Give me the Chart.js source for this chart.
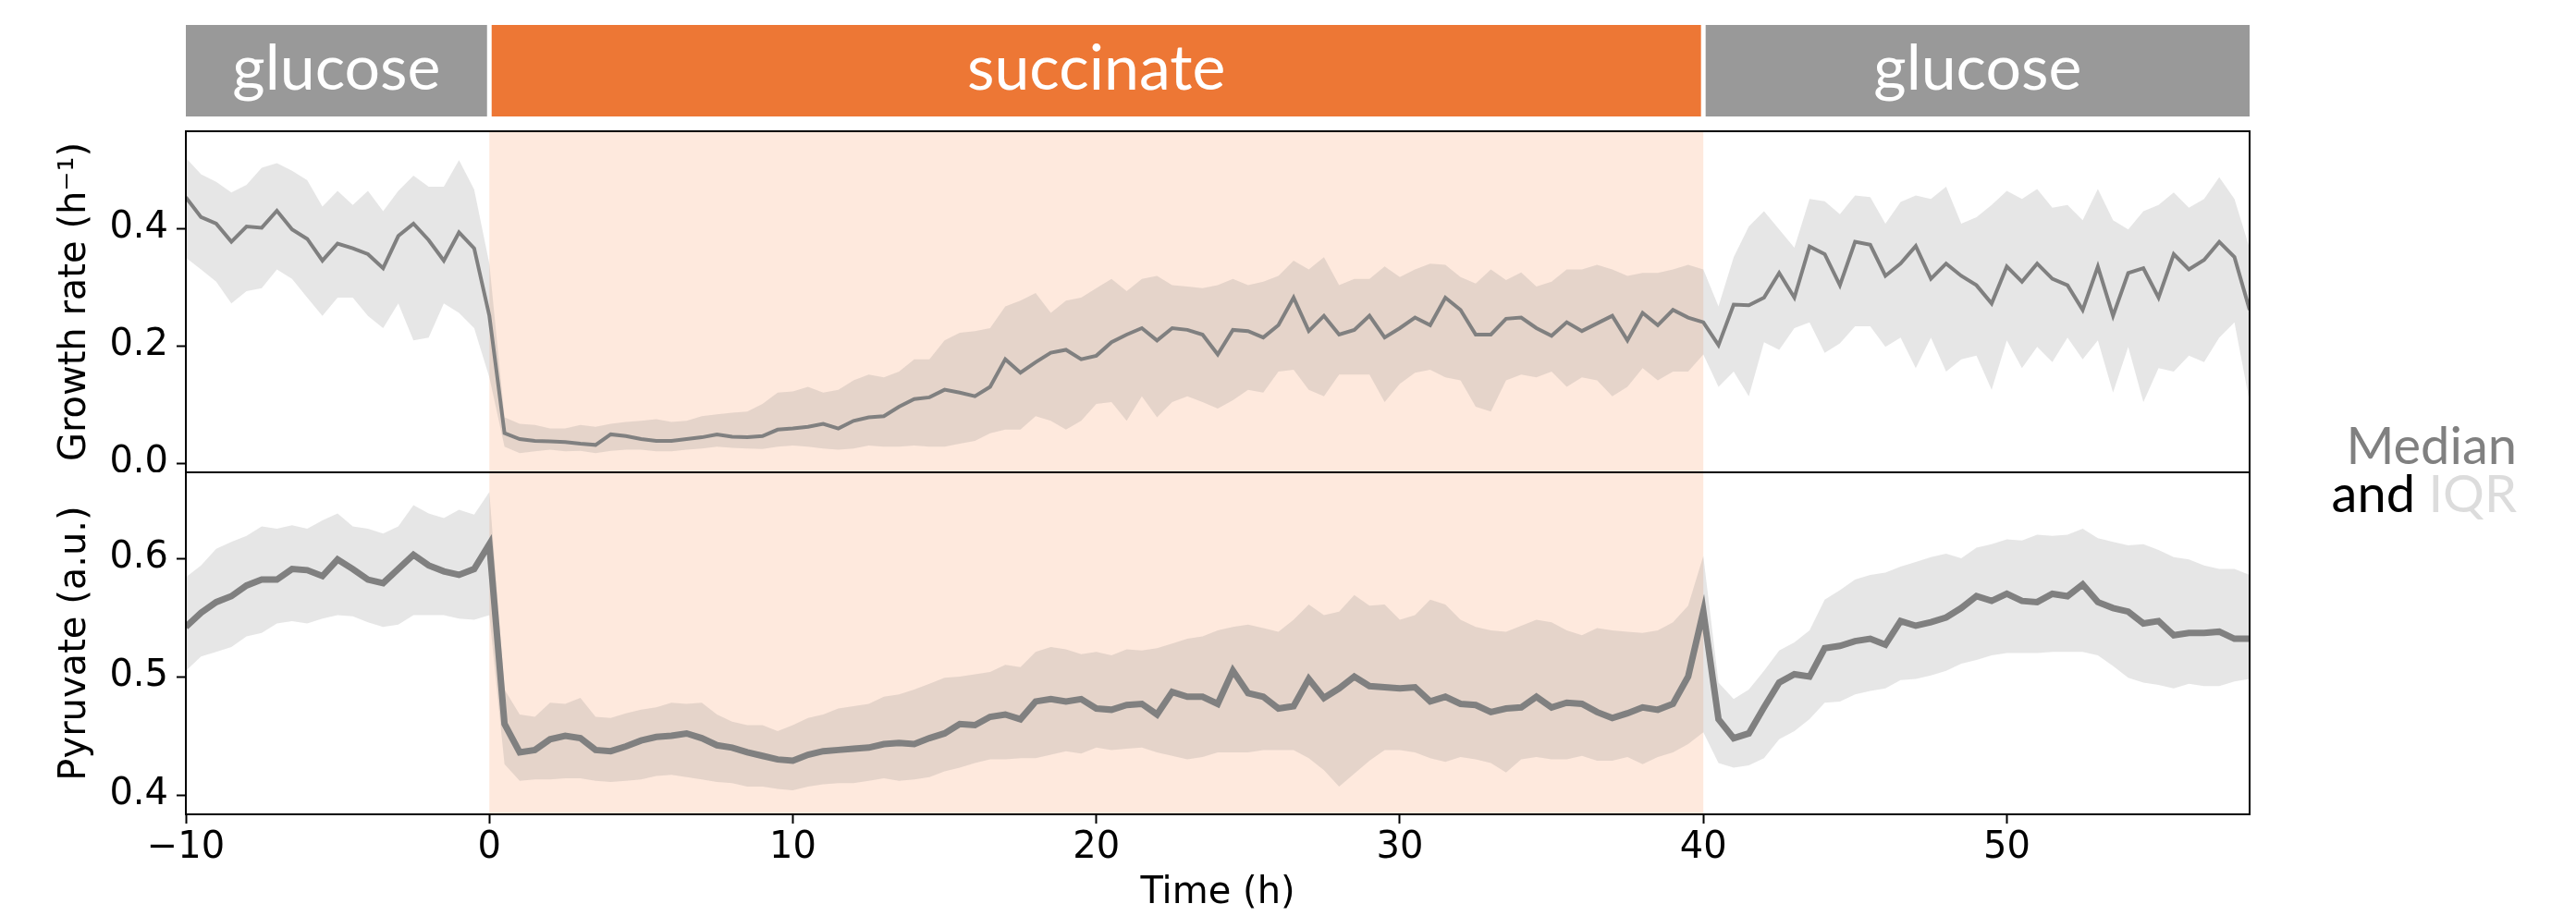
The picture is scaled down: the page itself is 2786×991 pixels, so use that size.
<!DOCTYPE html>
<html>
<head>
<meta charset="utf-8">
<title>Growth rate and pyruvate</title>
<script src="https://cdn.jsdelivr.net/npm/chart.js@4.4.0/dist/chart.umd.min.js"></script>
<style>
  html, body { margin: 0; padding: 0; background: #fff; }
  body { width: 2786px; height: 991px; position: relative; overflow: hidden; }
  canvas { position: absolute; left: 0; }
  #growthChart { top: 0; }
  #pyruvateChart { top: 511px; }
  .legend {
    position: absolute; left: 2472px; width: 250px; text-align: right;
    font-family: Lato, sans-serif; font-size: 56px; line-height: 52px; white-space: nowrap;
  }
</style>
</head>
<body>
<canvas id="growthChart" width="2786" height="511"></canvas>
<canvas id="pyruvateChart" width="2786" height="480"></canvas>
<div class="legend" style="top:455px; color:#808080;">Median</div>
<div class="legend" style="top:507px;"><span style="color:#000">and</span> <span style="color:#dcdcdc">IQR</span></div>
<script>
// time points (h), media switches at 0 h and 40 h
const timeH = [
  -10, -9.5, -9, -8.5, -8, -7.5, -7, -6.5, -6, -5.5,
  -5, -4.5, -4, -3.5, -3, -2.5, -2, -1.5, -1, -0.5,
  0, 0.5, 1, 1.5, 2, 2.5, 3, 3.5, 4, 4.5,
  5, 5.5, 6, 6.5, 7, 7.5, 8, 8.5, 9, 9.5,
  10, 10.5, 11, 11.5, 12, 12.5, 13, 13.5, 14, 14.5,
  15, 15.5, 16, 16.5, 17, 17.5, 18, 18.5, 19, 19.5,
  20, 20.5, 21, 21.5, 22, 22.5, 23, 23.5, 24, 24.5,
  25, 25.5, 26, 26.5, 27, 27.5, 28, 28.5, 29, 29.5,
  30, 30.5, 31, 31.5, 32, 32.5, 33, 33.5, 34, 34.5,
  35, 35.5, 36, 36.5, 37, 37.5, 38, 38.5, 39, 39.5,
  40, 40.5, 41, 41.5, 42, 42.5, 43, 43.5, 44, 44.5,
  45, 45.5, 46, 46.5, 47, 47.5, 48, 48.5, 49, 49.5,
  50, 50.5, 51, 51.5, 52, 52.5, 53, 53.5, 54, 54.5,
  55, 55.5, 56, 56.5, 57, 57.5, 58
];

const growthMedian = [
  0.453, 0.419, 0.408, 0.377, 0.403, 0.401, 0.430, 0.398, 0.382, 0.345,
  0.374, 0.366, 0.356, 0.332, 0.387, 0.408, 0.380, 0.345, 0.393, 0.366,
  0.251, 0.051, 0.041, 0.038, 0.037, 0.036, 0.033, 0.031, 0.049, 0.046,
  0.041, 0.038, 0.038, 0.041, 0.044, 0.049, 0.045, 0.044, 0.046, 0.057,
  0.059, 0.062, 0.067, 0.059, 0.072, 0.078, 0.080, 0.096, 0.109, 0.112,
  0.125, 0.120, 0.114, 0.130, 0.177, 0.154, 0.172, 0.188, 0.193, 0.177,
  0.183, 0.206, 0.219, 0.230, 0.209, 0.230, 0.227, 0.219, 0.185, 0.227,
  0.225, 0.214, 0.235, 0.282, 0.225, 0.251, 0.219, 0.227, 0.251, 0.214,
  0.230, 0.248, 0.235, 0.282, 0.261, 0.219, 0.219, 0.246, 0.248, 0.230,
  0.217, 0.240, 0.225, 0.238, 0.251, 0.209, 0.256, 0.235, 0.261, 0.248,
  0.240, 0.201, 0.270, 0.269, 0.282, 0.324, 0.282, 0.369, 0.356, 0.303,
  0.377, 0.372, 0.319, 0.340, 0.370, 0.314, 0.340, 0.319, 0.303, 0.272,
  0.335, 0.309, 0.340, 0.314, 0.303, 0.261, 0.335, 0.251, 0.324, 0.332,
  0.282, 0.356, 0.330, 0.346, 0.377, 0.351, 0.261
];
const growthQ3 = [
  0.520, 0.492, 0.479, 0.461, 0.474, 0.503, 0.511, 0.498, 0.482, 0.437,
  0.464, 0.440, 0.464, 0.429, 0.464, 0.490, 0.471, 0.471, 0.516, 0.466,
  0.340, 0.078, 0.067, 0.065, 0.059, 0.059, 0.065, 0.062, 0.067, 0.070,
  0.072, 0.075, 0.070, 0.072, 0.080, 0.083, 0.086, 0.088, 0.101, 0.120,
  0.122, 0.130, 0.120, 0.125, 0.141, 0.151, 0.146, 0.156, 0.177, 0.177,
  0.209, 0.222, 0.225, 0.230, 0.267, 0.277, 0.290, 0.256, 0.277, 0.282,
  0.298, 0.314, 0.293, 0.314, 0.319, 0.303, 0.301, 0.298, 0.303, 0.314,
  0.303, 0.309, 0.319, 0.345, 0.330, 0.351, 0.303, 0.314, 0.314, 0.335,
  0.317, 0.330, 0.340, 0.338, 0.317, 0.306, 0.330, 0.312, 0.325, 0.301,
  0.309, 0.330, 0.330, 0.338, 0.330, 0.319, 0.324, 0.324, 0.330, 0.338,
  0.330, 0.267, 0.351, 0.403, 0.429, 0.398, 0.367, 0.450, 0.446, 0.424,
  0.456, 0.453, 0.408, 0.445, 0.456, 0.450, 0.471, 0.408, 0.419, 0.440,
  0.464, 0.450, 0.467, 0.435, 0.440, 0.414, 0.467, 0.414, 0.398, 0.429,
  0.440, 0.461, 0.435, 0.450, 0.487, 0.450, 0.366
];
const growthQ1 = [
  0.350, 0.330, 0.309, 0.272, 0.293, 0.298, 0.330, 0.314, 0.282, 0.251,
  0.282, 0.282, 0.251, 0.230, 0.272, 0.209, 0.214, 0.272, 0.256, 0.230,
  0.146, 0.028, 0.017, 0.020, 0.023, 0.020, 0.021, 0.017, 0.021, 0.023,
  0.023, 0.020, 0.020, 0.023, 0.025, 0.028, 0.026, 0.025, 0.024, 0.028,
  0.030, 0.028, 0.025, 0.023, 0.025, 0.030, 0.028, 0.028, 0.030, 0.028,
  0.028, 0.033, 0.038, 0.051, 0.057, 0.057, 0.080, 0.072, 0.057, 0.072,
  0.101, 0.104, 0.072, 0.114, 0.078, 0.104, 0.114, 0.104, 0.093, 0.107,
  0.125, 0.120, 0.156, 0.159, 0.125, 0.114, 0.151, 0.151, 0.151, 0.104,
  0.135, 0.154, 0.159, 0.146, 0.141, 0.096, 0.088, 0.141, 0.151, 0.146,
  0.156, 0.130, 0.146, 0.141, 0.114, 0.130, 0.162, 0.141, 0.156, 0.156,
  0.185, 0.130, 0.156, 0.114, 0.206, 0.193, 0.230, 0.240, 0.188, 0.204,
  0.233, 0.233, 0.198, 0.214, 0.162, 0.214, 0.156, 0.177, 0.183, 0.125,
  0.209, 0.162, 0.198, 0.172, 0.214, 0.177, 0.209, 0.120, 0.198, 0.104,
  0.162, 0.156, 0.183, 0.172, 0.214, 0.240, 0.104
];

const pyruvateMedian = [
  0.542, 0.554, 0.563, 0.568, 0.577, 0.582, 0.582, 0.591, 0.590, 0.585,
  0.599, 0.591, 0.582, 0.579, 0.591, 0.603, 0.594, 0.589, 0.586, 0.591,
  0.612, 0.460, 0.436, 0.438, 0.447, 0.450, 0.448, 0.438, 0.437, 0.441,
  0.446, 0.449, 0.450, 0.452, 0.448, 0.442, 0.440, 0.436, 0.433, 0.430,
  0.429, 0.434, 0.437, 0.438, 0.439, 0.440, 0.443, 0.444, 0.443, 0.448,
  0.452, 0.460, 0.459, 0.466, 0.468, 0.464, 0.479, 0.481, 0.479, 0.481,
  0.473, 0.472, 0.476, 0.477, 0.468, 0.487, 0.483, 0.483, 0.477, 0.505,
  0.486, 0.483, 0.473, 0.475, 0.498, 0.482, 0.490, 0.500, 0.492, 0.491,
  0.490, 0.491, 0.479, 0.483, 0.477, 0.476, 0.470, 0.473, 0.474, 0.483,
  0.474, 0.478, 0.477, 0.470, 0.465, 0.469, 0.474, 0.472, 0.477, 0.500,
  0.555, 0.464, 0.448, 0.452, 0.474, 0.495, 0.502, 0.500, 0.524, 0.526,
  0.530, 0.532, 0.527, 0.547, 0.543, 0.546, 0.550, 0.558, 0.568, 0.564,
  0.570, 0.564, 0.563, 0.570, 0.568, 0.578, 0.563, 0.558, 0.555, 0.545,
  0.547, 0.535, 0.537, 0.537, 0.538, 0.532, 0.532
];
const pyruvateQ3 = [
  0.584, 0.594, 0.608, 0.614, 0.619, 0.627, 0.625, 0.628, 0.625, 0.632,
  0.638, 0.627, 0.625, 0.621, 0.627, 0.645, 0.638, 0.634, 0.641, 0.637,
  0.656, 0.489, 0.468, 0.466, 0.478, 0.477, 0.482, 0.466, 0.465, 0.469,
  0.472, 0.474, 0.478, 0.477, 0.478, 0.468, 0.462, 0.459, 0.459, 0.454,
  0.459, 0.465, 0.468, 0.473, 0.475, 0.477, 0.483, 0.485, 0.489, 0.494,
  0.499, 0.500, 0.502, 0.504, 0.510, 0.508, 0.521, 0.525, 0.523, 0.519,
  0.521, 0.518, 0.523, 0.522, 0.524, 0.528, 0.532, 0.534, 0.539, 0.542,
  0.544, 0.541, 0.538, 0.548, 0.561, 0.552, 0.555, 0.569, 0.560, 0.561,
  0.548, 0.552, 0.565, 0.561, 0.548, 0.542, 0.539, 0.538, 0.543, 0.548,
  0.546, 0.539, 0.535, 0.541, 0.539, 0.538, 0.537, 0.539, 0.546, 0.560,
  0.602, 0.495, 0.481, 0.489, 0.505, 0.522, 0.529, 0.539, 0.565, 0.573,
  0.582, 0.586, 0.588, 0.593, 0.597, 0.601, 0.604, 0.600, 0.609, 0.612,
  0.616, 0.615, 0.620, 0.619, 0.620, 0.625, 0.617, 0.614, 0.611, 0.612,
  0.607, 0.601, 0.599, 0.594, 0.591, 0.591, 0.586
];
const pyruvateQ1 = [
  0.505, 0.517, 0.521, 0.525, 0.534, 0.537, 0.545, 0.547, 0.545, 0.549,
  0.552, 0.551, 0.546, 0.542, 0.544, 0.552, 0.552, 0.552, 0.549, 0.548,
  0.552, 0.426, 0.412, 0.413, 0.413, 0.414, 0.414, 0.412, 0.411, 0.412,
  0.413, 0.416, 0.417, 0.415, 0.413, 0.411, 0.410, 0.407, 0.407, 0.405,
  0.404, 0.407, 0.409, 0.410, 0.410, 0.412, 0.414, 0.412, 0.413, 0.415,
  0.420, 0.423, 0.427, 0.430, 0.430, 0.431, 0.431, 0.434, 0.437, 0.435,
  0.440, 0.438, 0.439, 0.440, 0.436, 0.433, 0.430, 0.432, 0.436, 0.436,
  0.436, 0.438, 0.438, 0.438, 0.431, 0.421, 0.407, 0.418, 0.429, 0.438,
  0.438, 0.436, 0.431, 0.428, 0.432, 0.430, 0.427, 0.419, 0.430, 0.432,
  0.430, 0.430, 0.433, 0.429, 0.429, 0.432, 0.426, 0.432, 0.436, 0.443,
  0.453, 0.427, 0.423, 0.425, 0.431, 0.447, 0.454, 0.464, 0.478, 0.479,
  0.485, 0.488, 0.490, 0.497, 0.498, 0.501, 0.505, 0.511, 0.514, 0.518,
  0.520, 0.520, 0.520, 0.521, 0.521, 0.521, 0.518, 0.509, 0.499, 0.495,
  0.493, 0.490, 0.494, 0.492, 0.492, 0.496, 0.498
];

// medium phases
const phaseNames = ['glucose', 'succinate', 'glucose'];
const phaseStarts = [-10, 0, 40];
const phaseEnds = [0, 40, 58];

const timeTicks = [-10, 0, 10, 20, 30, 40, 50];
const growthTicks = [0.0, 0.2, 0.4];
const pyruvateTicks = [0.4, 0.5, 0.6];

const bannerColors = { glucose: '#999999', succinate: '#ed7735' };
const shadeColors = { succinate: '#fee9dd' };
const tickFont = { family: 'DejaVu Sans', size: 40 };

function toPoints(values) {
    return timeH.map((t, i) => ({ x: t, y: values[i] }));
}

function bandDatasets(median, q3, q1, lineWidth) {
    return [{
        data: toPoints(median),
        borderColor: '#808080',
        borderWidth: lineWidth,
        pointRadius: 0,
        fill: false,
        clip: 0
    }, {
        data: toPoints(q3),
        borderColor: 'rgba(0,0,0,0)',
        borderWidth: 0,
        backgroundColor: 'rgba(128,128,128,0.2)',
        pointRadius: 0,
        fill: '+1',
        clip: 0
    }, {
        data: toPoints(q1),
        borderColor: 'rgba(0,0,0,0)',
        borderWidth: 0,
        pointRadius: 0,
        fill: false,
        clip: 0
    }];
}

// peach background behind the succinate phase
const phaseShading = {
    id: 'phaseShading',
    beforeDatasetsDraw(chart) {
        const { ctx, chartArea, scales } = chart;
        ctx.save();
        phaseNames.forEach((name, i) => {
            if (!shadeColors[name]) return;
            const x0 = scales.x.getPixelForValue(phaseStarts[i]);
            const x1 = scales.x.getPixelForValue(phaseEnds[i]);
            ctx.fillStyle = shadeColors[name];
            ctx.fillRect(x0, chartArea.top, x1 - x0, chartArea.bottom - chartArea.top);
        });
        ctx.restore();
    }
};

const axesFrame = {
    id: 'axesFrame',
    afterDraw(chart) {
        const { ctx, chartArea } = chart;
        ctx.save();
        ctx.strokeStyle = '#000';
        ctx.lineWidth = 2;
        ctx.strokeRect(chartArea.left, chartArea.top, chartArea.right - chartArea.left, chartArea.bottom - chartArea.top);
        ctx.restore();
    }
};

// coloured medium boxes above the top panel
const mediaBanner = {
    id: 'mediaBanner',
    afterDraw(chart) {
        const { ctx, scales } = chart;
        const top = 27, bottom = 126, gap = 2.5;
        ctx.save();
        ctx.font = '68px Lato';
        ctx.textAlign = 'center';
        ctx.textBaseline = 'alphabetic';
        phaseNames.forEach((name, i) => {
            let x0 = scales.x.getPixelForValue(phaseStarts[i]);
            let x1 = scales.x.getPixelForValue(phaseEnds[i]);
            if (i > 0) x0 += gap;
            if (i < phaseNames.length - 1) x1 -= gap;
            ctx.fillStyle = bannerColors[name];
            ctx.fillRect(x0, top, x1 - x0, bottom - top);
            ctx.fillStyle = '#fff';
            ctx.fillText(name, (x0 + x1) / 2, top + (bottom - top) * 0.71);
        });
        ctx.restore();
    }
};

function yAxis(min, max, tickValues, title) {
    return {
        min: min,
        max: max,
        afterBuildTicks: s => { s.ticks = tickValues.map(v => ({ value: v })); },
        afterFit: s => { s.width = 201; s.paddingTop = 0; s.paddingBottom = 0; },
        ticks: { font: tickFont, color: '#000', padding: 9, callback: v => v.toFixed(1) },
        grid: { drawOnChartArea: false, tickLength: 10, tickColor: '#000', tickWidth: 2 },
        border: { display: false },
        title: { display: true, text: title, font: tickFont, color: '#000', padding: { top: 58, bottom: 0 } }
    };
}

function baseOptions() {
    return {
        responsive: false,
        animation: false,
        devicePixelRatio: 1,
        events: [],
        plugins: { legend: { display: false }, tooltip: { enabled: false } }
    };
}

document.addEventListener('DOMContentLoaded', function () {
    const growthOptions = baseOptions();
    growthOptions.layout = { padding: { top: 142, right: 353, bottom: 0, left: 0 } };
    growthOptions.scales = {
        x: { type: 'linear', min: -10, max: 58, display: false },
        y: yAxis(-0.0157, 0.5654, growthTicks, 'Growth rate (h\u207B\u00B9)')
    };
    new Chart(document.getElementById('growthChart'), {
        type: 'line',
        data: { datasets: bandDatasets(growthMedian, growthQ3, growthQ1, 4) },
        options: growthOptions,
        plugins: [phaseShading, axesFrame, mediaBanner]
    });

    const pyruvateOptions = baseOptions();
    pyruvateOptions.layout = { padding: { top: 0, right: 353, bottom: 0, left: 0 } };
    pyruvateOptions.scales = {
        x: {
            type: 'linear',
            min: -10,
            max: 58,
            afterBuildTicks: s => { s.ticks = timeTicks.map(v => ({ value: v })); },
            afterFit: s => { s.height = 110; s.paddingLeft = 0; s.paddingRight = 0; },
            ticks: {
                font: tickFont, color: '#000', padding: 3, maxRotation: 0, autoSkip: false,
                callback: v => String(v).replace('-', '\u2212')
            },
            grid: { drawOnChartArea: false, tickLength: 10, tickColor: '#000', tickWidth: 2 },
            border: { display: false },
            title: { display: true, text: 'Time (h)', font: tickFont, color: '#000', padding: { top: 0, bottom: 0 } }
        },
        y: yAxis(0.3836, 0.6727, pyruvateTicks, 'Pyruvate (a.u.)')
    };
    new Chart(document.getElementById('pyruvateChart'), {
        type: 'line',
        data: { datasets: bandDatasets(pyruvateMedian, pyruvateQ3, pyruvateQ1, 7) },
        options: pyruvateOptions,
        plugins: [phaseShading, axesFrame]
    });
});
</script>
</body>
</html>
